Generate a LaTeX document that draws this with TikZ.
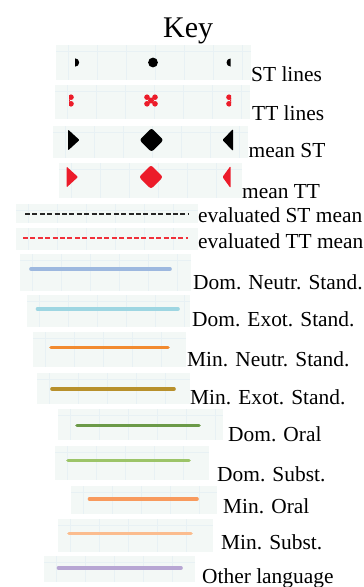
\documentclass[tikz,border=0pt]{standalone}
\usepackage{fontspec}
\setmainfont{Liberation Serif}
\definecolor{patchbg}{HTML}{F3F8F6}
\definecolor{patchgrid}{HTML}{E8F1F4}
\definecolor{stred}{HTML}{EC1C2A}
\definecolor{evred}{HTML}{F0303A}
\definecolor{cDNS}{HTML}{9DB8DF}
\definecolor{cDES}{HTML}{9ED6E2}
\definecolor{cMNS}{HTML}{F28A2E}
\definecolor{cMES}{HTML}{B8902C}
\definecolor{cDO}{HTML}{6B9A48}
\definecolor{cDS}{HTML}{9CC468}
\definecolor{cMO}{HTML}{F89A5E}
\definecolor{cMS}{HTML}{FBBC8E}
\definecolor{cOL}{HTML}{B7A6D3}
\tikzset{
  lbl/.style={anchor=base west, inner sep=0pt, font=\fontsize{21.4}{24}\selectfont},
  keyline/.style={line width=3.6pt, line cap=round},
  evalline/.style={line width=2pt, dash pattern=on 5pt off 2.4pt},
  gridln/.style={draw=patchgrid, line width=0.6pt},
}
% light patch with a faint grid behind each key entry: #1,#2 = top left, #3,#4 = bottom right
\newcommand\keypatch[4]{%
  \fill[patchbg] (#1,#2) rectangle (#3,#4);
  \begin{scope}
    \clip (#1,#2) rectangle (#3,#4);
    \foreach \k in {0,...,7} {\draw[gridln] (#1+12+29*\k,#2) -- (#1+12+29*\k,#4);}
    \draw[gridln] (#1,#2+6) -- (#3,#2+6);
  \end{scope}}
% red cross-shaped marker made of dots
\newcommand\ttmark[3]{%
  \fill[#3] (#1,#2) circle (3);
  \fill[#3] (#1-4,#2-3.3) circle (2.8);
  \fill[#3] (#1+4,#2-3.3) circle (2.8);
  \fill[#3] (#1-4,#2+3.3) circle (2.8);
  \fill[#3] (#1+4,#2+3.3) circle (2.8);}
\begin{document}
\begin{tikzpicture}[x=1pt,y=-1pt]
\useasboundingbox (0,0) rectangle (364,587);
\fill[white] (0,0) rectangle (364,587);

\node[anchor=base west, inner sep=0pt, font=\fontsize{30}{34}\selectfont] (title) at (163,37) {Key};

% ST lines
\keypatch{56}{45}{251}{80}
\begin{scope}\clip (75,50) rectangle (85,75); \fill[black] (75,62.5) circle (4.2);\end{scope}
\fill[black] (153,62.5) circle (4.9);
\begin{scope}\clip (220,50) rectangle (230.5,75); \fill[black] (230.5,62.5) circle (4);\end{scope}
\node[lbl] (stlines) at (251,81) {ST lines};

% TT lines
\keypatch{55}{85}{250}{119}
\begin{scope}\clip (69,90) rectangle (80,112); \ttmark{67}{100.5}{stred}\end{scope}
\ttmark{151}{100.5}{stred}
\begin{scope}\clip (220,90) rectangle (231,112); \ttmark{233}{100.5}{stred}\end{scope}
\node[lbl] (ttlines) at (252,120.5) {TT lines};

% mean ST
\keypatch{53}{126}{248}{158}
\fill[black, rounded corners=1pt] (68,129.5) -- (79.5,140) -- (68,150.5) -- cycle;
\fill[black, rounded corners=2.5pt] (151.5,128) -- (163.5,140) -- (151.5,152) -- (139.5,140) -- cycle;
\fill[black, rounded corners=1pt] (233,129) -- (222.5,140) -- (233,151) -- cycle;
\node[lbl] (meanst) at (248.5,157.7) {mean ST};

% mean TT
\keypatch{59}{163}{242}{198}
\fill[stred, rounded corners=1pt] (66.5,166.5) -- (78,177) -- (66.5,187.5) -- cycle;
\fill[stred, rounded corners=2.5pt] (151,165) -- (163,177) -- (151,189) -- (139,177) -- cycle;
\fill[stred, rounded corners=1pt] (230.5,166) -- (222.5,177) -- (230.5,188) -- cycle;
\node[lbl] (meantt) at (242,198.5) {mean TT};

% evaluated means
\keypatch{16}{204}{198}{223}
\coordinate (esA) at (25,214); \coordinate (esB) at (188,214);
\draw[evalline, draw=black!85] (esA) -- (esB);
\node[lbl] (evst) at (198,222) {evaluated ST mean};

\fill[patchbg] (16,228) rectangle (198,250);
\begin{scope}
  \clip (16,228) rectangle (198,250);
  \foreach \k in {0,...,7} {\draw[gridln] (28+29*\k,228) -- (28+29*\k,250);}
\end{scope}
\coordinate (etA) at (23,237.5); \coordinate (etB) at (188,237.5);
\draw[evalline, draw=evred] (etA) -- (etB);
\node[lbl] (evtt) at (198,248) {evaluated TT mean};

% language categories
\keypatch{20}{254}{191}{291}
\coordinate (a1) at (31,269); \coordinate (b1) at (170,269);
\draw[keyline, cDNS] (a1) -- (b1);
\node[lbl] (dns) at (193,289) {Dom. Neutr. Stand.};

\keypatch{27}{295}{190}{327}
\coordinate (a2) at (37.5,309); \coordinate (b2) at (178,309);
\draw[keyline, cDES] (a2) -- (b2);
\node[lbl] (des) at (192,326.5) {Dom. Exot. Stand.};

\keypatch{33}{332}{186}{367}
\coordinate (a3) at (51,347.5); \coordinate (b3) at (168,347.5);
\draw[keyline, cMNS] (a3) -- (b3);
\node[lbl] (mns) at (187,366.5) {Min. Neutr. Stand.};

\keypatch{37}{373}{190}{404}
\coordinate (a4) at (52,389); \coordinate (b4) at (174,389);
\draw[keyline, cMES] (a4) -- (b4);
\node[lbl] (mes) at (190,404) {Min. Exot. Stand.};

\keypatch{58}{409}{223}{440}
\coordinate (a5) at (77,425.5); \coordinate (b5) at (199,425.5);
\draw[keyline, cDO] (a5) -- (b5);
\node[lbl] (dor) at (228,441) {Dom. Oral};

\keypatch{55}{446}{209}{480}
\coordinate (a6) at (68,460.5); \coordinate (b6) at (189,460.5);
\draw[keyline, cDS] (a6) -- (b6);
\node[lbl] (dsu) at (217,481) {Dom. Subst.};

\keypatch{71}{486}{217}{514}
\coordinate (a7) at (89.5,499); \coordinate (b7) at (197,499);
\draw[keyline, cMO] (a7) -- (b7);
\node[lbl] (mor) at (223,513) {Min. Oral};

\keypatch{58}{519}{213}{552}
\coordinate (a8) at (69,533.5); \coordinate (b8) at (191,533.5);
\draw[keyline, cMS] (a8) -- (b8);
\node[lbl] (msu) at (221,549) {Min. Subst.};

\keypatch{44}{556}{195}{582}
\coordinate (a9) at (58.5,568); \coordinate (b9) at (181,568);
\draw[keyline, cOL] (a9) -- (b9);
\node[lbl] (oth) at (202,583) {Other language};
\end{tikzpicture}
\end{document}
